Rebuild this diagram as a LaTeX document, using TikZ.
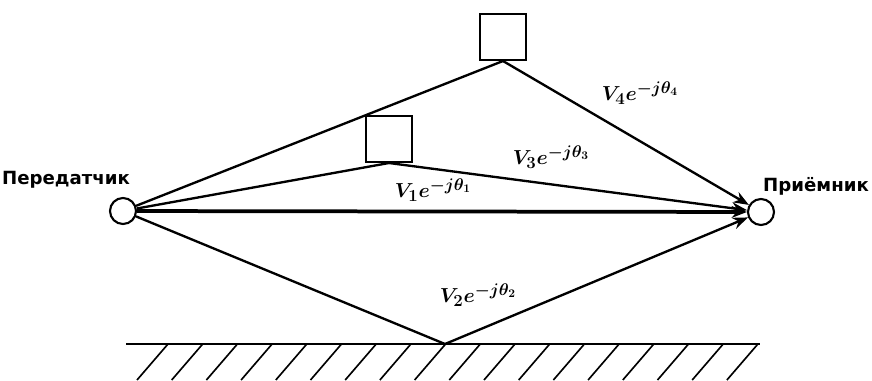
\documentclass[tikz,border=0pt]{standalone}
\usepackage{amsmath}
\usepackage{amssymb}
\usepackage{fontspec}
\newfontfamily\stationfont{DejaVu Sans}
\DeclareMathSizes{17}{17}{13.5}{10}
\usetikzlibrary{arrows, arrows.meta}

\begin{document}
\begin{tikzpicture}[x=0.03cm, y=-0.03cm,
  ray/.style={line width=2pt},
  tip/.style={-{Stealth[length=13pt, width=10pt]}},
  antenna/.style={circle, draw, line width=1.8pt, minimum size=0.78cm, inner sep=0pt},
  obstacle/.style={draw, line width=1.8pt, minimum size=1.38cm, inner sep=0pt},
  gain/.style={font=\fontsize{17}{20}\selectfont\boldmath},
  station/.style={font=\stationfont\bfseries\fontsize{15.5}{18}\selectfont}]
  \useasboundingbox (0,0) rectangle (872,380);

  % Coordinates
  \node[antenna] (tx) at (123,211) {};
  \node[antenna] (rx) at (761,212) {};
  \node[obstacle, anchor=south] (obsA) at (503,61) {};
  \node[obstacle, anchor=south] (obsB) at (389,163) {};
  \coordinate (refl) at (445,344);
  \coordinate (gndL) at (126,344);
  \coordinate (gndR) at (760,344);

  % Labels
  \node[station] (txlbl) at (66,180) {Передатчик};
  \node[station] (rxlbl) at (816,186) {Приёмник};
  \node[gain] (g4) at (640,93) {$V_4e^{-j\theta_4}$};
  \node[gain] (g3) at (551,157) {$V_3e^{-j\theta_3}$};
  \node[gain] (g1) at (433,190) {$V_1e^{-j\theta_1}$};
  \node[gain] (g2) at (478,295) {$V_2e^{-j\theta_2}$};

  % Ground
  \draw[line width=2.2pt] (gndL) -- (gndR);
  \foreach \i in {0,...,17}
    \draw[line width=1.4pt] ({168+34.7*\i},344) -- ++(-31,36);

  % Drawing
  \draw[ray] (tx) -- (obsA.south);
  \draw[ray, tip] (obsA.south) -- (rx);
  \draw[ray] (tx) -- (obsB.south);
  \draw[ray, tip] (obsB.south) -- (rx);
  \draw[line width=3.2pt, tip] (tx) -- (rx);
  \draw[ray] (tx) -- (refl);
  \draw[ray, tip] (refl) -- (rx);
\end{tikzpicture}
\end{document}
